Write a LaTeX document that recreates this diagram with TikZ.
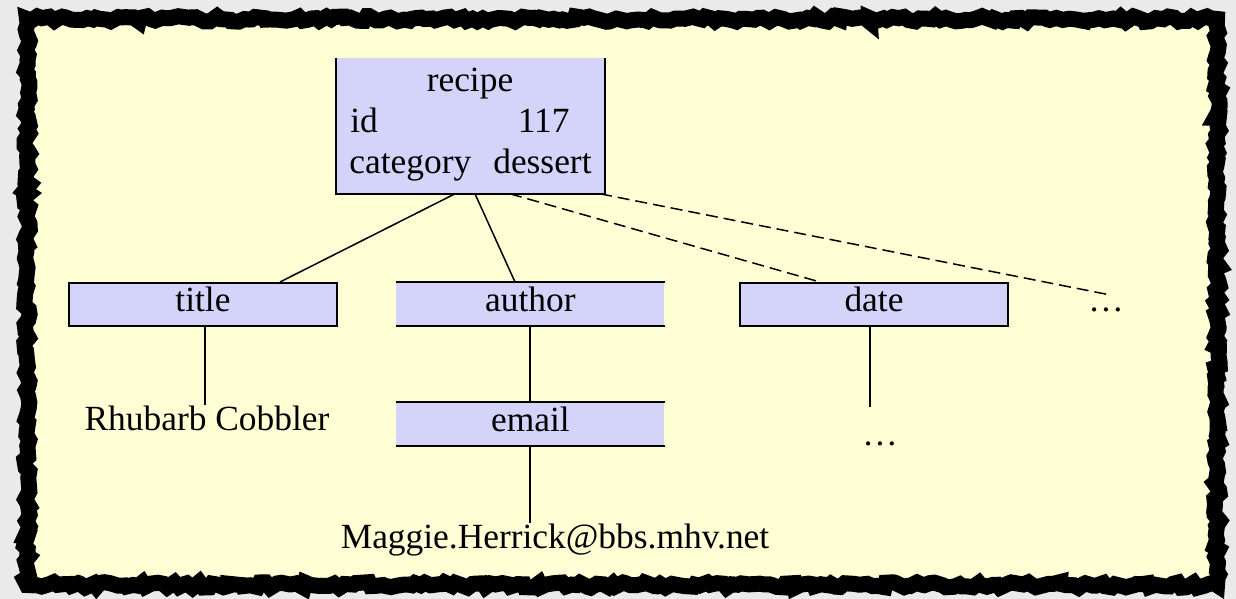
\documentclass[tikz,border=0pt]{standalone}
\usepackage{fontspec}
\setmainfont{Liberation Serif}
\usetikzlibrary{decorations.pathmorphing,calc}
\definecolor{bggrey}{HTML}{EAEAEA}
\definecolor{cream}{HTML}{FFFFD6}
\definecolor{lav}{HTML}{D4D4FA}
\tikzset{
  lbl/.style={font=\fontsize{17.7pt}{20pt}\selectfont, inner sep=0pt},
  fullbox/.style={draw, line width=1pt, fill=lav, minimum width=134pt, minimum height=21.5pt, inner sep=0pt, anchor=north west},
  openbox/.style={fill=lav, minimum width=134pt, minimum height=21.5pt, inner sep=0pt, anchor=north west},
  edge/.style={line width=0.75pt},
  dedge/.style={line width=0.75pt, dash pattern=on 6pt off 3pt},
  rough/.style={line width=8pt, decorate, decoration={random steps, segment length=2.5pt, amplitude=1.4pt}}
}
\begin{document}
\begin{tikzpicture}[x=0.5pt,y=-0.5pt]
\pgfmathsetseed{7}
\useasboundingbox (0,0) rectangle (1236,599);
\fill[bggrey] (0,0) rectangle (1236,599);
\fill[cream] (27,19) rectangle (1217,585);
% recipe box (top edge not drawn)
\node[openbox, minimum height=67.5pt] (recipe) at (336,58) {};
\draw[line width=1pt] (recipe.north west) -- (recipe.south west) -- (recipe.south east) -- (recipe.north east);
\node[lbl, anchor=base] (rname) at (470,92) {recipe};
\node[lbl, anchor=base west] (rid) at (350,133) {id};
\node[lbl, anchor=base east] (ridv) at (570,133) {117};
\node[lbl, anchor=base west] (rcat) at (349,173) {category};
\node[lbl, anchor=base east] (rcatv) at (592,173) {dessert};
% frame
\draw[rough] (27,19) rectangle (1217,585);
% child boxes
\node[fullbox] (title) at (68,282) {};
\node[lbl, anchor=base] (titlel) at ($(title.north)+(0,29)$) {title};
\node[openbox] (author) at (396,282) {};
\draw[line width=1pt] (author.north west)--(author.north east) (author.south west)--(author.south east);
\node[lbl, anchor=base] (authorl) at ($(author.north)+(0,29)$) {author};
\node[fullbox] (date) at (739,282) {};
\node[lbl, anchor=base] (datel) at ($(date.north)+(0,29)$) {date};
\node[lbl, anchor=base] (more) at (1106,311) {\dots};
\node[openbox] (email) at (396,402) {};
\draw[line width=1pt] (email.north west)--(email.north east) (email.south west)--(email.south east);
\node[lbl, anchor=base] (emaill) at ($(email.north)+(0,29)$) {email};
\node[lbl, anchor=base] (rhub) at (207,430) {Rhubarb Cobbler};
\node[lbl, anchor=base] (dots2) at (880,445) {\dots};
\node[lbl, anchor=base] (maggie) at (555,548) {Maggie.Herrick@bbs.mhv.net};
% connector points
\coordinate (r1) at ($(recipe.south west)+(119,0)$);
\coordinate (r2) at ($(recipe.south west)+(139,0)$);
\coordinate (r3) at ($(recipe.south west)+(174,0)$);
\coordinate (r4) at ($(recipe.south west)+(264,0)$);
\coordinate (t1) at ($(title.north west)+(212,0)$);
\coordinate (a1) at ($(author.north west)+(119,0)$);
\coordinate (d1) at ($(date.north west)+(81,0)$);
\coordinate (m1) at ($(more.north)+(4,-12)$);
\draw[edge] (r1) -- (t1);
\draw[edge] (r2) -- (a1);
\draw[dedge] (r3) -- (d1);
\draw[dedge] (r4) -- (m1);
\draw[edge] ($(title.south west)+(137,0)$) coordinate (ts) -- (ts |- rhub.north) coordinate (rt);
\draw[edge] ($(author.south west)+(134,0)$) coordinate (as) -- (as |- email.north);
\draw[edge] ($(email.south west)+(134,0)$) coordinate (es) -- (es |- maggie.north);
\draw[edge] ($(date.south west)+(131,0)$) coordinate (ds) -- ($(ds)+(0,80)$) coordinate (de);
\end{tikzpicture}
\end{document}
